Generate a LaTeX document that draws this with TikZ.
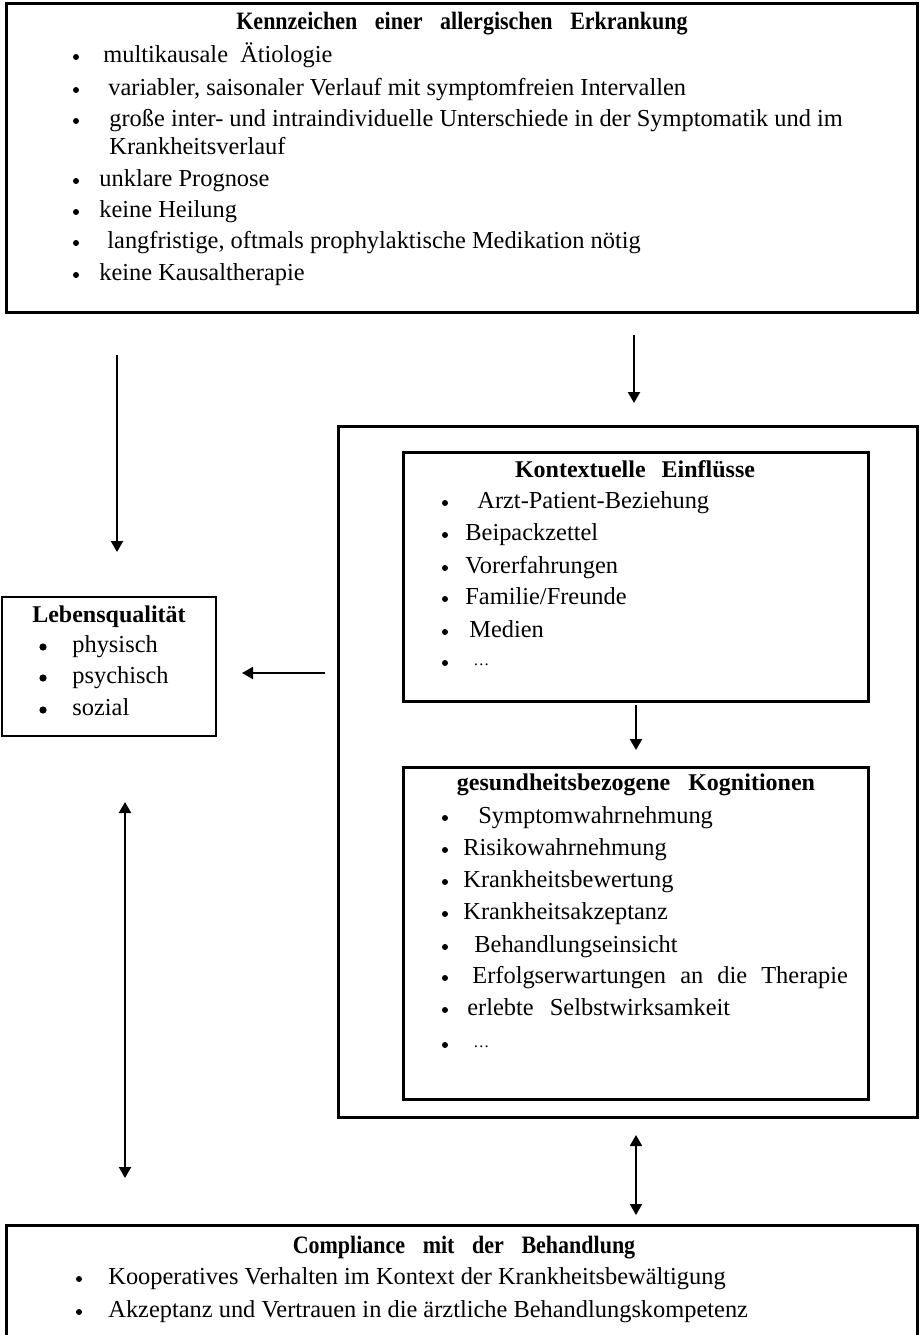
\documentclass[tikz,border=0pt]{standalone}
\usepackage{graphicx}
\usepackage{fontspec}
\setmainfont{Liberation Serif}
\usetikzlibrary{arrows.meta,fit}
\newcommand\wsp{\hspace{10pt}}
\newcommand\cond[1]{\scalebox{0.88}[1]{#1}}
\begin{document}
\begin{tikzpicture}[x=0.5pt,y=-0.5pt,
  box/.style={draw, line width=1.5pt, inner sep=0pt},
  thinbox/.style={draw, line width=0.75pt, inner sep=0pt},
  txt/.style={anchor=west, inner sep=0pt, font=\fontsize{12.2}{14}\selectfont, text height=8.3pt, text depth=2.7pt},
  ttl/.style={anchor=center, inner sep=0pt, font=\fontsize{12.5}{14}\selectfont\bfseries, text height=8.5pt, text depth=2.7pt},
  bttl/.style={anchor=center, inner sep=0pt, font=\fontsize{12}{14}\selectfont\bfseries, text height=8.2pt, text depth=2.6pt},
  ell/.style={anchor=west, inner sep=0pt, font=\fontsize{8}{10}\selectfont},
  bul/.style={circle, fill, inner sep=0pt, minimum size=3pt},
  bigbul/.style={circle, fill, inner sep=0pt, minimum size=3.6pt},
  arr/.style={line width=1pt, -{Triangle[width=6pt,length=5.5pt]}},
  darr/.style={line width=1pt, {Triangle[width=6pt,length=5.5pt]}-{Triangle[width=6pt,length=5.5pt]}},
]
\clip (0,0) rectangle (920,1335);
\fill[white] (0,0) rectangle (920,1335);

% ---------- top box ----------
\node[box, fit={(6,3) (917,312)}] (top) {};
\node[ttl] (ttop) at (462,24) {\cond{Kennzeichen\wsp einer\wsp allergischen\wsp Erkrankung}};
\foreach \y [count=\i] in {57,90,121,181,212,243,275} \node[bul] (tb\i) at (76,\y) {};
\node[txt] (t1) at (103,57) {multikausale \ Ätiologie};
\node[txt] (t2) at (108,90) {variabler, saisonaler Verlauf mit symptomfreien Intervallen};
\node[txt] (t3) at (109,121) {große inter- und intraindividuelle Unterschiede in der Symptomatik und im};
\node[txt] (t3b) at (109,149) {Krankheitsverlauf};
\node[txt] (t4) at (99,181) {unklare Prognose};
\node[txt] (t5) at (99,212) {keine Heilung};
\node[txt] (t6) at (107,243) {langfristige, oftmals prophylaktische Medikation nötig};
\node[txt] (t7) at (99,275) {keine Kausaltherapie};

% ---------- Lebensqualitaet ----------
\node[thinbox, fit={(2,597) (216,736)}] (lq) {};
\node[bttl] (tlq) at (109,617) {Lebensqualität};
\foreach \y [count=\i] in {647,678,710} \node[bigbul] (lb\i) at (43,\y) {};
\node[txt] (l1) at (72,647) {physisch};
\node[txt] (l2) at (72,678) {psychisch};
\node[txt] (l3) at (72,710) {sozial};

% ---------- big box ----------
\node[box, fit={(338,426) (917,1117)}] (big) {};

% inner box 1
\node[box, fit={(403,452) (868,701)}] (kon) {};
\node[bttl] (tkon) at (635,472) {Kontextuelle\hspace{5pt} Einflüsse};
\foreach \y [count=\i] in {503,535,568,599,632,663} \node[bul] (kb\i) at (445,\y) {};
\node[txt] (k1) at (477,503) {Arzt-Patient-Beziehung};
\node[txt] (k2) at (465,535) {Beipackzettel};
\node[txt] (k3) at (465,568) {Vorerfahrungen};
\node[txt] (k4) at (465,599) {Familie/Freunde};
\node[txt] (k5) at (469,632) {Medien};
\node[ell] (k6) at (473,665) {…};

% inner box 2
\node[box, fit={(403,767) (868,1099)}] (kog) {};
\node[bttl] (tkog) at (636,785) {gesundheitsbezogene\hspace{6pt} Kognitionen};
\foreach \y [count=\i] in {818,850,882,914,947,978,1010,1045} \node[bul] (gb\i) at (445,\y) {};
\node[txt] (g1) at (478,818) {Symptomwahrnehmung};
\node[txt] (g2) at (463,850) {Risikowahrnehmung};
\node[txt] (g3) at (463,882) {Krankheitsbewertung};
\node[txt] (g4) at (463,914) {Krankheitsakzeptanz};
\node[txt] (g5) at (474,947) {Behandlungseinsicht};
\node[txt] (g6) at (472,978) {Erfolgserwartungen\hspace{4pt} an\hspace{4pt} die\hspace{4pt} Therapie};
\node[txt] (g7) at (467,1010) {erlebte\hspace{5pt} Selbstwirksamkeit};
\node[ell] (g8) at (473,1047) {…};

% ---------- bottom box ----------
\draw[line width=1.5pt] (6,1345) -- (6,1225) -- (917,1225) -- (917,1345);
\coordinate (bot) at (462,1225);
\node[ttl] (tbot) at (464,1248) {\cond{Compliance\wsp mit\wsp der\wsp Behandlung}};
\foreach \y [count=\i] in {1279,1312} \node[bul] (bb\i) at (79,\y) {};
\node[txt] (c1) at (108,1279) {Kooperatives Verhalten im Kontext der Krankheitsbewältigung};
\node[txt] (c2) at (108,1312) {Akzeptanz und Vertrauen in die ärztliche Behandlungskompetenz};

% ---------- arrows ----------
\coordinate (a1s) at (117,355); \coordinate (a1e) at (117,552);
\coordinate (a2s) at (634,335); \coordinate (a2e) at (634,403);
\coordinate (a3s) at (325,673); \coordinate (a3e) at (242,673);
\coordinate (a4s) at (636,705); \coordinate (a4e) at (636,750);
\coordinate (a5s) at (125,802); \coordinate (a5e) at (125,1178);
\coordinate (a6s) at (636,1135); \coordinate (a6e) at (636,1215);
\draw[arr] (a1s) -- (a1e);
\draw[arr] (a2s) -- (a2e);
\draw[arr] (a3s) -- (a3e);
\draw[arr] (a4s) -- (a4e);
\draw[darr] (a5s) -- (a5e);
\draw[darr] (a6s) -- (a6e);
\end{tikzpicture}
\end{document}
